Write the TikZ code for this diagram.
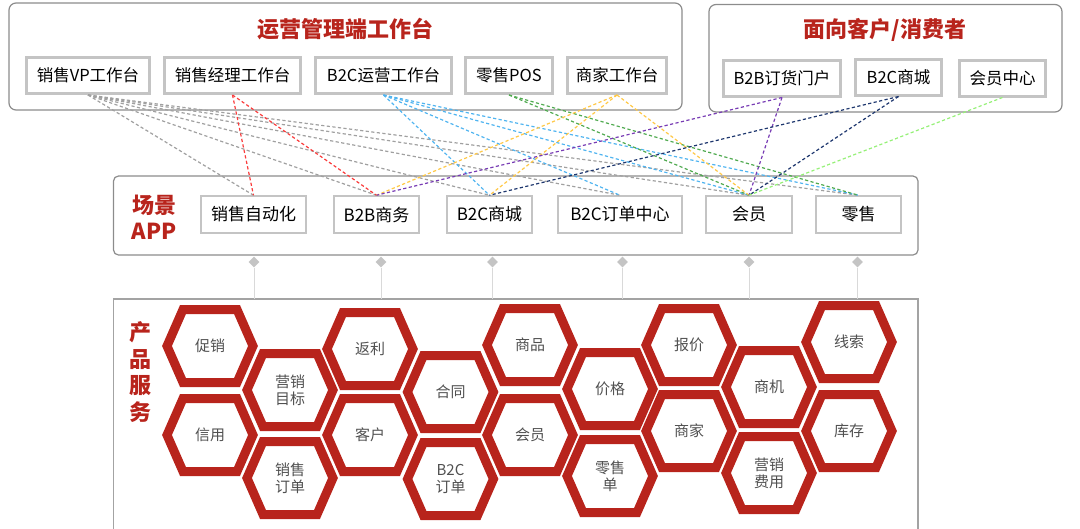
\documentclass[tikz,border=0pt]{standalone}
\usepackage{fontspec}
\setmainfont{Noto Sans CJK SC}
\usetikzlibrary{shapes.geometric,calc}
\definecolor{myred}{RGB}{184,36,28}
\definecolor{framegray}{RGB}{140,140,140}
\definecolor{boxgray}{RGB}{196,196,196}
\definecolor{cgray}{RGB}{160,160,160}
\definecolor{cred}{RGB}{250,60,60}
\definecolor{cblue}{RGB}{80,180,240}
\definecolor{cgreen}{RGB}{80,170,80}
\definecolor{cyellow}{RGB}{255,200,70}
\definecolor{cpurple}{RGB}{120,60,180}
\definecolor{cnavy}{RGB}{30,55,110}
\definecolor{clgreen}{RGB}{150,240,120}
\definecolor{hextxt}{RGB}{80,80,80}
\newcommand\hexcell[3]{%
  \coordinate (#1) at (#2);
  \draw[hexring] ([shift={(-43,0)}]#1) -- ([shift={(-27,-36.5)}]#1) -- ([shift={(27,-36.5)}]#1)
     -- ([shift={(43,0)}]#1) -- ([shift={(27,36.5)}]#1) -- ([shift={(-27,36.5)}]#1) -- cycle;
  \node[hextext] (#1t) at (#1) {#3};
}
\begin{document}
\begin{tikzpicture}[x=1pt,y=-1pt,
  outerframe/.style={draw=framegray,line width=1.2pt,rounded corners=7pt},
  topbox/.style={draw=boxgray,line width=3pt,fill=white,inner sep=0pt,
     minimum height=36pt,font=\fontsize{16.5}{19}\selectfont,text=black},
  scenebox/.style={draw=boxgray,line width=2pt,fill=white,inner sep=0pt,
     minimum height=36.5pt,font=\fontsize{17}{19}\selectfont,text=black},
  title/.style={font=\fontsize{22}{24}\selectfont\bfseries,text=myred},
  sidelabel/.style={font=\fontsize{22}{26}\selectfont\bfseries,text=myred,align=center},
  hexring/.style={draw=myred,line width=9pt,line join=miter},
  hextext/.style={font=\fontsize{15}{17}\selectfont,text=hextxt,align=center},
  dia/.style={diamond,fill=boxgray,inner sep=0pt,minimum width=11pt,minimum height=11pt},
  vline/.style={draw=black!15,line width=1pt},
  conn/.style={dash pattern=on 3.2pt off 2.4pt,line width=1.2pt},
]
\useasboundingbox (0,0) rectangle (1080,528);

% outer frames
\draw[outerframe] (9,3) rectangle (682,110);
\draw[outerframe] (709,4.5) rectangle (1062,112);
\node[title] (t1) at (345,29) {运营管理端工作台};
\node[title] (t2) at (885,30) {面向客户/消费者};

% top boxes
\node[topbox,minimum width=123pt] (vp) at (88,75.5) {销售VP工作台};
\node[topbox,minimum width=136pt] (jl) at (232.5,75.5) {销售经理工作台};
\node[topbox,minimum width=136pt] (yy) at (383.5,75.5) {B2C运营工作台};
\node[topbox,minimum width=87pt] (pos) at (509,75.5) {零售POS};
\node[topbox,minimum width=99pt] (sj) at (617,75.5) {商家工作台};
\node[topbox,minimum width=117pt] (tb2b) at (782,78) {B2B订货门户};
\node[topbox,minimum width=86pt] (tb2c) at (898.5,77) {B2C商城};
\node[topbox,minimum width=86pt] (thy) at (1002.5,78) {会员中心};

% scene frame
\draw[outerframe,rounded corners=5pt] (113.5,176) rectangle (918,255);
\node[sidelabel] (cj) at (154,217) {场景\\APP};
\node[scenebox,minimum width=105pt] (sa) at (253.5,214.5) {销售自动化};
\node[scenebox,minimum width=85pt] (b2b) at (376.5,214.5) {B2B商务};
\node[scenebox,minimum width=85pt] (b2cm) at (489.5,214.5) {B2C商城};
\node[scenebox,minimum width=124pt] (b2co) at (620,214.5) {B2C订单中心};
\node[scenebox,minimum width=86pt] (hy) at (749,214.5) {会员};
\node[scenebox,minimum width=85pt] (ls) at (858.5,214.5) {零售};

% connectors
\foreach \t in {sa,b2b,b2cm,b2co,hy,ls} \draw[conn,cgray] (vp.south) -- (\t.north);
\foreach \t in {sa,b2b} \draw[conn,cred] (jl.south) -- (\t.north);
\foreach \t in {b2cm,b2co,hy,ls} \draw[conn,cblue] (yy.south) -- (\t.north);
\foreach \t in {hy,ls} \draw[conn,cgreen] (pos.south) -- (\t.north);
\foreach \t in {b2b,b2cm,hy} \draw[conn,cyellow] (sj.south) -- (\t.north);
\foreach \t in {b2b,hy} \draw[conn,cpurple] (tb2b.south) -- (\t.north);
\foreach \t in {b2cm,hy} \draw[conn,cnavy] (tb2c.south) -- (\t.north);
\draw[conn,clgreen] (thy.south) -- (hy.north);

% product frame
\draw[draw=framegray!80,line width=1.6pt] (113.5,540) -- (113.5,299) -- (918,299) -- (918,540);
\coordinate (ptop) at (0,299);

% diamonds and vertical lines
\foreach \n/\x in {d1/254,d2/381,d3/492.5,d4/622.5,d5/749,d6/857.5}{
  \node[dia] (\n) at (\x,262) {};
  \draw[vline] (\n.south) -- (\n |- ptop);
}

\node[sidelabel,font=\fontsize{22}{26.7}\selectfont\bfseries] (cp) at (140,372) {产\\品\\服\\务};

% hexagons
\hexcell{h1}{210,346}{促销}
\hexcell{h2}{210,435}{信用}
\hexcell{h3}{290,390}{营销\\目标}
\hexcell{h4}{290,478}{销售\\订单}
\hexcell{h5}{370,349}{返利}
\hexcell{h6}{370,435}{客户}
\hexcell{h7}{450.5,392}{合同}
\hexcell{h8}{450.5,479}{B2C\\订单}
\hexcell{h9}{530,345}{商品}
\hexcell{h10}{530,435}{会员}
\hexcell{h11}{610,389}{价格}
\hexcell{h12}{610,476}{零售\\单}
\hexcell{h13}{689,345}{报价}
\hexcell{h14}{689,431}{商家}
\hexcell{h15}{769,387}{商机}
\hexcell{h16}{769,473}{营销\\费用}
\hexcell{h17}{849,342}{线索}
\hexcell{h18}{849,431}{库存}
\end{tikzpicture}
\end{document}
